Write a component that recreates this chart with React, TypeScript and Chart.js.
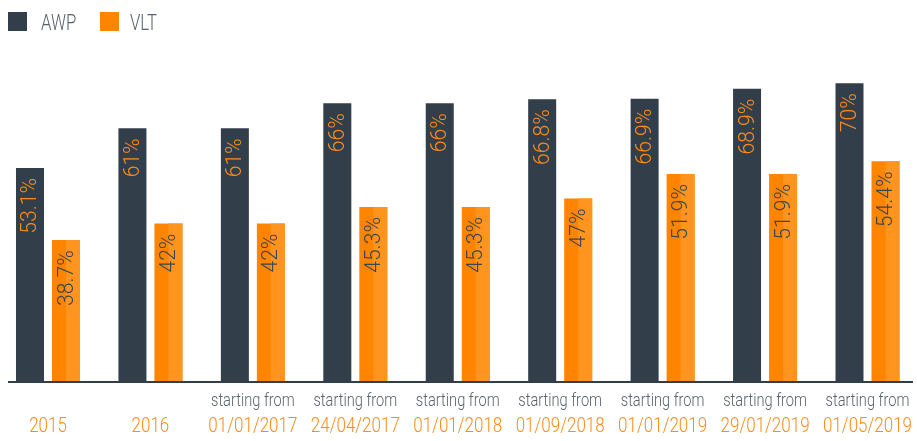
import React, { useEffect, useRef } from "react";
import { Chart, registerables } from "chart.js";

Chart.register(...registerables);

const categories = ["2015", "2016", "01/01/2017", "24/04/2017", "01/01/2018", "01/09/2018", "01/01/2019", "29/01/2019", "01/05/2019"];
const prefixLabels = ["", "", "starting from", "starting from", "starting from", "starting from", "starting from", "starting from", "starting from"];
const awpValues = [53.1, 61, 61, 66, 66, 66.8, 66.9, 68.9, 70];
const vltValues = [38.7, 42, 42, 45.3, 45.3, 47, 51.9, 51.9, 54.4];
const awpLabels = ["53.1%", "61%", "61%", "66%", "66%", "66.8%", "66.9%", "68.9%", "70%"];
const vltLabels = ["38.7%", "42%", "42%", "45.3%", "45.3%", "47%", "51.9%", "51.9%", "54.4%"];
const seriesNames = ["AWP", "VLT"];

const Y_MIN = 10.4;
const Y_MAX = 80;

const DARK = "#323f4b";
const ORANGE = "#ff8400";
const ORANGE_LIGHT = "#ff951f";
const LABEL_ORANGE = "#ff8c1a";
const LABEL_DARK = "#3b4651";
const TEXT_GRAY = "#58626c";
const FONT = "Roboto";

function condensedText(ctx: CanvasRenderingContext2D, text: string, x: number, y: number, sx: number) {
  ctx.save();
  ctx.translate(x, y);
  ctx.scale(sx, 1);
  ctx.fillText(text, 0, 0);
  ctx.restore();
}

const decorPlugin = {
  id: "decor",
  afterDatasetsDraw(chart: any) {
    const ctx: CanvasRenderingContext2D = chart.ctx;
    // lighter right half of VLT bars
    const metaV = chart.getDatasetMeta(1);
    ctx.save();
    metaV.data.forEach((bar: any) => {
      const p = bar.getProps(["x", "y", "base", "width"], true);
      ctx.fillStyle = ORANGE_LIGHT;
      ctx.fillRect(p.x, p.y, p.width / 2, p.base - p.y);
    });
    ctx.restore();

    // axis line
    const bottom = chart.chartArea.bottom;
    ctx.save();
    ctx.fillStyle = DARK;
    ctx.fillRect(8, bottom - 1, 905, 2);
    ctx.restore();

    // rotated value labels
    const drawLabels = (dsIndex: number, labels: string[], color: string) => {
      const meta = chart.getDatasetMeta(dsIndex);
      meta.data.forEach((bar: any, i: number) => {
        const p = bar.getProps(["x", "y"], true);
        ctx.save();
        ctx.translate(p.x + 1, p.y + 10);
        ctx.rotate(-Math.PI / 2);
        ctx.scale(0.96, 1);
        ctx.font = `300 22px ${FONT}`;
        ctx.fillStyle = color;
        ctx.textAlign = "right";
        ctx.textBaseline = "middle";
        ctx.fillText(labels[i], 0, 0);
        ctx.restore();
      });
    };
    drawLabels(0, awpLabels, LABEL_ORANGE);
    drawLabels(1, vltLabels, LABEL_DARK);

    // x labels
    const xScale = chart.scales.x;
    ctx.save();
    ctx.textAlign = "center";
    ctx.textBaseline = "alphabetic";
    categories.forEach((c, i) => {
      const x = xScale.getPixelForValue(i);
      if (prefixLabels[i]) {
        ctx.font = `300 19px ${FONT}`;
        ctx.fillStyle = TEXT_GRAY;
        condensedText(ctx, prefixLabels[i], x, 406, 0.77);
      }
      ctx.font = `300 21px ${FONT}`;
      ctx.fillStyle = LABEL_ORANGE;
      condensedText(ctx, c, x, 432, 0.81);
    });
    ctx.restore();

    // legend
    ctx.save();
    ctx.fillStyle = DARK;
    ctx.fillRect(8, 12, 19, 19);
    ctx.fillStyle = ORANGE;
    ctx.fillRect(100, 12, 19, 19);
    ctx.font = `300 22px ${FONT}`;
    ctx.fillStyle = TEXT_GRAY;
    ctx.textAlign = "left";
    ctx.textBaseline = "alphabetic";
    condensedText(ctx, seriesNames[0], 41, 30, 0.76);
    condensedText(ctx, seriesNames[1], 130, 30, 0.76);
    ctx.restore();
  },
};

export default function App() {
  const canvasRef = useRef<HTMLCanvasElement | null>(null);
  useEffect(() => {
    if (!canvasRef.current) return;
    const chart = new Chart(canvasRef.current, {
      type: "bar",
      data: {
        labels: categories,
        datasets: [
          { label: seriesNames[0], data: awpValues, backgroundColor: DARK, base: Y_MIN, clip: false as any },
          { label: seriesNames[1], data: vltValues, backgroundColor: ORANGE, base: Y_MIN, clip: false as any },
        ],
      },
      options: {
        animation: false,
        responsive: true,
        maintainAspectRatio: false,
        layout: { padding: { top: 33, bottom: 59, left: 48, right: 49.5 } },
        datasets: { bar: { categoryPercentage: 0.703, barPercentage: 0.778 } },
        plugins: { legend: { display: false }, tooltip: { enabled: false } },
        scales: {
          x: { display: false, offset: false, grid: { display: false } },
          y: { display: false, min: Y_MIN, max: Y_MAX },
        },
      },
      plugins: [decorPlugin],
    });
    return () => chart.destroy();
  }, []);
  return (
    <div style={{ position: "absolute", left: 0, top: 0, width: 917, height: 441, background: "#fff" }}>
      <canvas ref={canvasRef} />
    </div>
  );
}
